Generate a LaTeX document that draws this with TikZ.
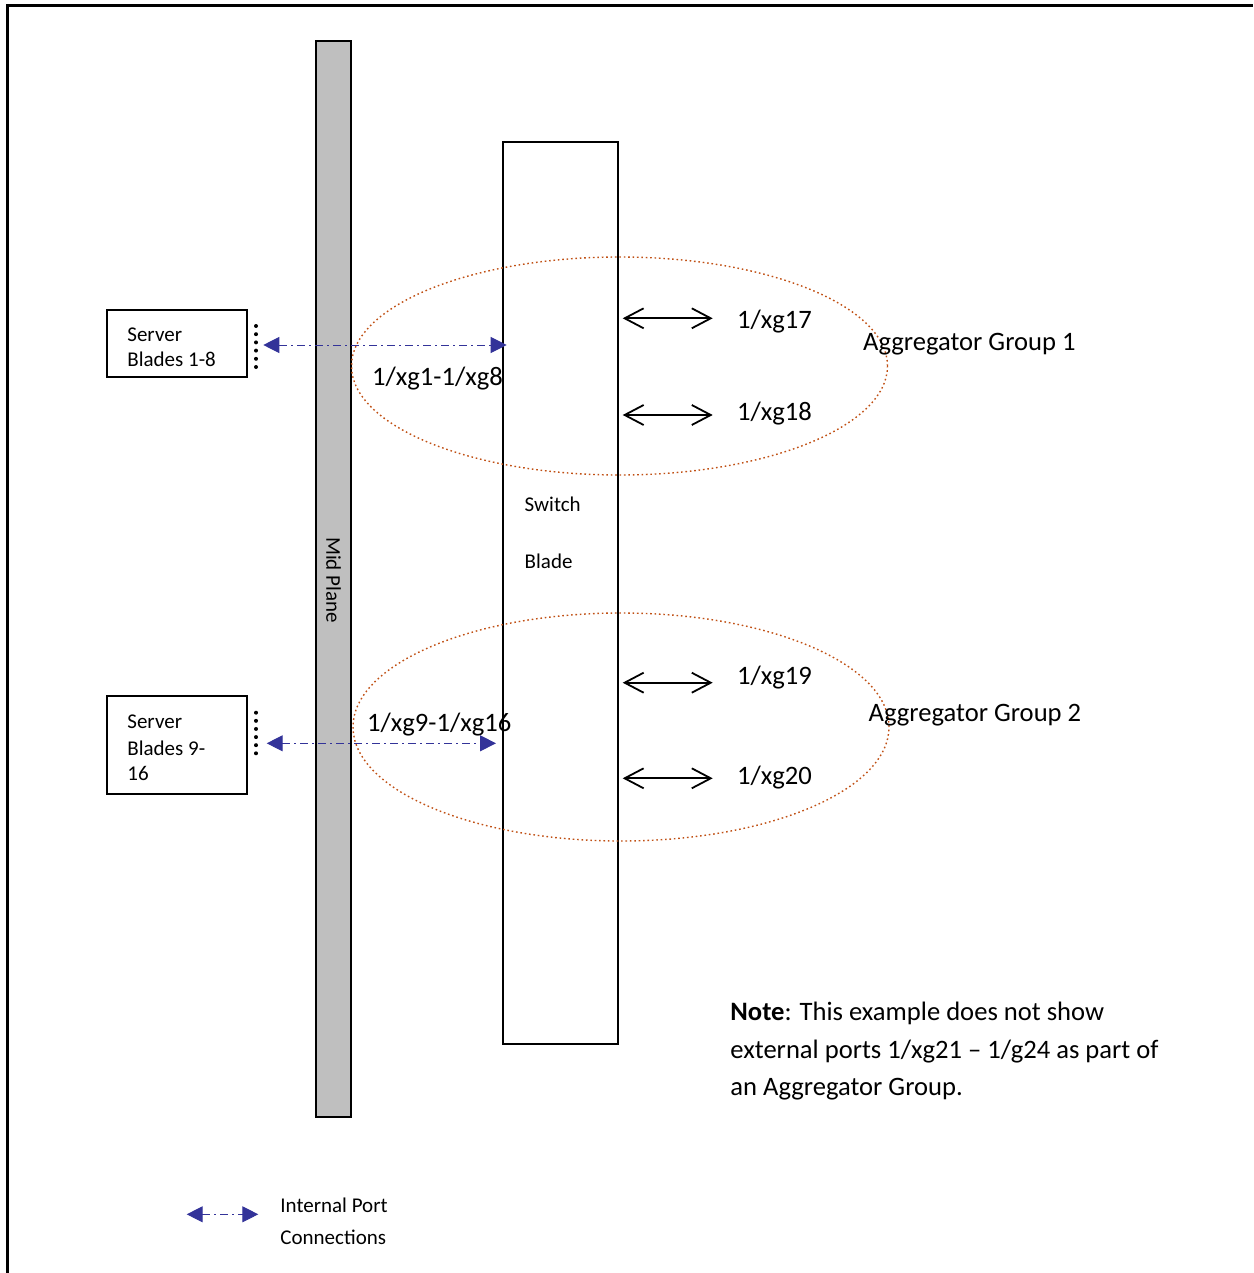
\documentclass[tikz,border=0pt]{standalone}
\usepackage{fontspec}
\setmainfont{Carlito}
\usetikzlibrary{arrows.meta,shapes.geometric}
\definecolor{intblue}{RGB}{51,51,153}
\definecolor{groupbrown}{RGB}{192,80,20}
\definecolor{midgray}{RGB}{191,191,191}
\begin{document}
\begin{tikzpicture}[x=0.5pt,y=-0.5pt,
 smalltext/.style={font=\fontsize{10.5}{13}\selectfont, inner sep=0, anchor=base west},
 bigtext/.style={font=\fontsize{13.3}{16}\selectfont, inner sep=0, anchor=base west},
 box/.style={draw, line width=1pt, inner sep=0},
 portarrow/.style={draw, line width=0.9pt, {Straight Barb[length=9.5pt,width=10pt]}-{Straight Barb[length=9.5pt,width=10pt]}},
 intarrow/.style={draw=intblue, line width=0.5pt, dash pattern=on 4pt off 2pt on 1pt off 2pt, {Triangle[length=8pt,width=8pt,fill=intblue]}-{Triangle[length=8pt,width=8pt,fill=intblue]}},
 groupellipse/.style={ellipse, draw=groupbrown, line width=0.7pt, dash pattern=on 0.8pt off 1.4pt, inner sep=0},
 dotcol/.style={line width=2pt, line cap=round}
]
\useasboundingbox (0,0) rectangle (1253,1273);
% frame
\coordinate (fbl) at (7.3,1273);
\coordinate (ftl) at (7.3,5.7);
\coordinate (ftr) at (1253,5.7);
\draw[line width=1.2pt] (fbl) -- (ftl) -- (ftr);

% mid plane
\node[box, fill=midgray, minimum width=17.5pt, minimum height=538pt] (mid) at (333.5,579) {};
\node[font=\fontsize{10.5}{13}\selectfont, inner sep=0, rotate=-90] (midlabel) at (333.5,580) {Mid Plane};

% switch blade
\node[box, minimum width=57.8pt, minimum height=451pt] (switch) at (560.5,593) {};
\node[smalltext] (sw1) at (524.3,511.7) {Switch};
\node[smalltext] (sw2) at (524.3,568.3) {Blade};

% server boxes
\node[box, minimum width=70pt, minimum height=33.5pt] (srv1) at (176.7,343.7) {};
\node[smalltext] (srv1a) at (127,341.7) {Server};
\node[smalltext] (srv1b) at (127,366.7) {Blades 1-8};
\node[box, minimum width=70pt, minimum height=49pt] (srv2) at (176.7,745) {};
\node[smalltext] (srv2a) at (127,728) {Server};
\node[smalltext] (srv2b) at (127,755) {Blades 9-};
\node[smalltext] (srv2c) at (127,780) {16};

% dot columns
\coordinate (d1t) at (256,326);
\coordinate (d1b) at (256,367);
\coordinate (d2t) at (256,712.7);
\coordinate (d2b) at (256,753.3);
\draw[dotcol, dash pattern=on 0pt off 4.1pt] (d1t) -- (d1b);
\draw[dotcol, dash pattern=on 0pt off 4.06pt] (d2t) -- (d2b);

% aggregator ellipses
\node[groupellipse, minimum width=268pt, minimum height=109pt] (ag1) at (619.5,366) {};
\node[groupellipse, minimum width=268pt, minimum height=114pt] (ag2) at (621,727) {};

% internal arrows
\coordinate (i1l) at (263.3,345);
\coordinate (i1r) at (506.7,345);
\coordinate (i2l) at (266.7,743.3);
\coordinate (i2r) at (496,743.3);
\draw[intarrow] (i1l) -- (i1r);
\draw[intarrow] (i2l) -- (i2r);
\node[bigtext] (lab1) at (371.7,385) {1/xg1-1/xg8};
\node[bigtext] (lab2) at (366.7,731.5) {1/xg9-1/xg16};

% port arrows
\coordinate (p17l) at (622.7,318.3);
\coordinate (p17r) at (712.7,318.3);
\coordinate (p18l) at (622.7,415);
\coordinate (p18r) at (712.7,415);
\coordinate (p19l) at (622.7,682.7);
\coordinate (p19r) at (712.7,682.7);
\coordinate (p20l) at (622.7,778.3);
\coordinate (p20r) at (712.7,778.3);
\draw[portarrow] (p17l) -- (p17r);
\draw[portarrow] (p18l) -- (p18r);
\draw[portarrow] (p19l) -- (p19r);
\draw[portarrow] (p20l) -- (p20r);
\node[bigtext] (l17) at (736.7,328.5) {1/xg17};
\node[bigtext] (l18) at (736.7,420.5) {1/xg18};
\node[bigtext] (l19) at (736.7,684) {1/xg19};
\node[bigtext] (l20) at (736.7,784) {1/xg20};
\node[bigtext] (ag1label) at (862.7,350.5) {Aggregator Group 1};
\node[bigtext] (ag2label) at (868.3,721.5) {Aggregator Group 2};

% note
\node[bigtext] (note1) at (730,1020.5) {\textbf{Note}: This example does not show};
\node[bigtext] (note2) at (730,1058) {external ports 1/xg21 – 1/g24 as part of};
\node[bigtext] (note3) at (730,1095) {an Aggregator Group.};

% legend
\coordinate (legl) at (186.7,1214.3);
\coordinate (legr) at (258.3,1214.3);
\draw[intarrow] (legl) -- (legr);
\node[smalltext] (leg1) at (280,1212.5) {Internal Port};
\node[smalltext] (leg2) at (280,1244) {Connections};
\end{tikzpicture}
\end{document}
